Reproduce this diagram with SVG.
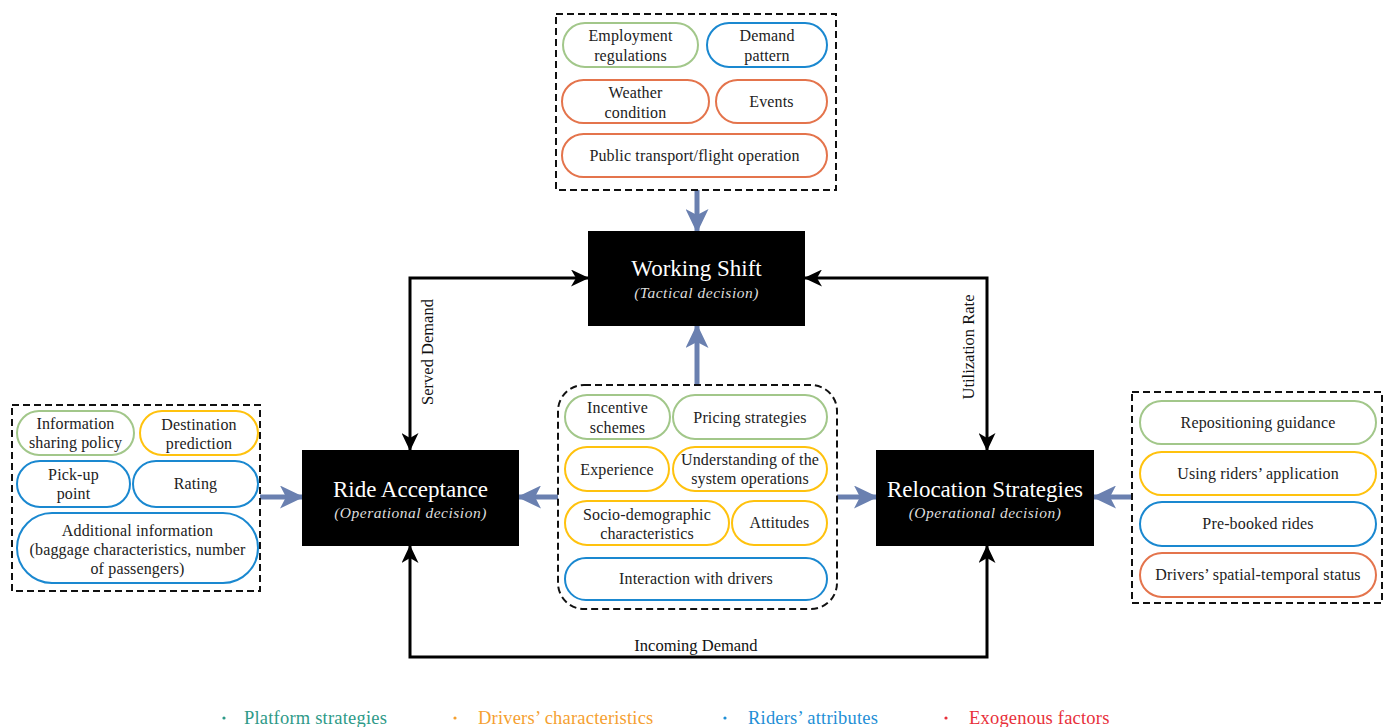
<svg xmlns="http://www.w3.org/2000/svg" width="1392" height="727" viewBox="0 0 1392 727">
<defs>
<style>
.t{font-family:"Liberation Serif","Times New Roman",serif;font-size:16px;letter-spacing:0.15px;fill:#222;text-anchor:middle}
.g{fill:#fff;stroke:#a2c78a;stroke-width:2}
.b{fill:#fff;stroke:#1a88d0;stroke-width:2}
.o{fill:#fff;stroke:#e4744c;stroke-width:2}
.y{fill:#fff;stroke:#ffc20e;stroke-width:2}
.dash{fill:none;stroke:#111;stroke-width:2;stroke-dasharray:7 4}
.dec{fill:#000}
.ttl{font-family:"Liberation Serif","Times New Roman",serif;font-size:23px;fill:#fff;text-anchor:middle}
.sub{font-family:"Liberation Serif","Times New Roman",serif;font-size:15.5px;letter-spacing:0.5px;font-style:italic;fill:#ddd;text-anchor:middle}
.bl{stroke:#6a80b0;stroke-width:5;fill:none;marker-end:url(#barr)}
.bk{stroke:#000;stroke-width:3;fill:none;marker-start:url(#karr);marker-end:url(#karr)}
.lab{font-family:"Liberation Serif","Times New Roman",serif;font-size:16.5px;fill:#111;text-anchor:middle}
.leg{font-family:"Liberation Serif","Times New Roman",serif;font-size:18.5px;letter-spacing:0.2px}
</style>
<marker id="barr" markerUnits="userSpaceOnUse" markerWidth="24" markerHeight="23" refX="22" refY="11.5" orient="auto">
<path d="M0,0 L24,11.5 L0,23 L6,11.5 z" fill="#6a80b0"/>
</marker>
<marker id="karr" markerUnits="userSpaceOnUse" markerWidth="18" markerHeight="17" refX="17" refY="8.5" orient="auto-start-reverse">
<path d="M0,0 L18,8.5 L0,17 L5,8.5 z" fill="#000"/>
</marker>
</defs>
<rect width="1392" height="727" fill="#fff"/>

<g id="connectors">
<line class="bl" x1="697" y1="190" x2="697" y2="231"/>
<line class="bl" x1="697" y1="385" x2="697" y2="326"/>
<line class="bl" x1="558" y1="497" x2="519" y2="497"/>
<line class="bl" x1="837" y1="497" x2="876" y2="497"/>
<line class="bl" x1="260" y1="497" x2="302" y2="497"/>
<line class="bl" x1="1132" y1="497" x2="1094" y2="497"/>
<path class="bk" d="M588,278 L410,278 L410,450"/>
<path class="bk" d="M805,278 L987,278 L987,450"/>
<path class="bk" d="M410,546 L410,657 L987,657 L987,546"/>
<text class="lab" transform="translate(433,352) rotate(-90)">Served Demand</text>
<text class="lab" transform="translate(974,347) rotate(-90)">Utilization Rate</text>
<text class="lab" x="696" y="651">Incoming Demand</text>
</g>

<g id="exogenous-box">
<rect class="dash" x="556" y="14" width="280" height="176"/>
<rect class="g" x="563" y="23" width="135" height="44" rx="22"/>
<text class="t" x="630.5" y="41">Employment</text><text class="t" x="630.5" y="61">regulations</text>
<rect class="b" x="707" y="23" width="120" height="44" rx="22"/>
<text class="t" x="767" y="41">Demand</text><text class="t" x="767" y="61">pattern</text>
<rect class="o" x="562" y="80" width="147" height="43" rx="21.5"/>
<text class="t" x="635.5" y="98">Weather</text><text class="t" x="635.5" y="118">condition</text>
<rect class="o" x="716" y="80" width="111" height="43" rx="21.5"/>
<text class="t" x="771.5" y="107">Events</text>
<rect class="o" x="562" y="134" width="265" height="43" rx="21.5"/>
<text class="t" x="694.5" y="161">Public transport/flight operation</text>
</g>

<g id="working-shift">
<rect class="dec" x="588" y="231" width="217" height="95"/>
<text class="ttl" x="696.5" y="276">Working Shift</text>
<text class="sub" x="696.5" y="298">(Tactical decision)</text>
</g>

<g id="ride-acceptance">
<rect class="dec" x="302" y="450" width="217" height="96"/>
<text class="ttl" x="410.5" y="497">Ride Acceptance</text>
<text class="sub" x="410.5" y="518">(Operational decision)</text>
</g>

<g id="relocation-strategies">
<rect class="dec" x="876" y="450" width="218" height="96"/>
<text class="ttl" x="985" y="497">Relocation Strategies</text>
<text class="sub" x="985" y="518">(Operational decision)</text>
</g>

<g id="rider-box">
<rect class="dash" x="12" y="405" width="248" height="186"/>
<rect class="g" x="17" y="411" width="117" height="44" rx="22"/>
<text class="t" x="75.5" y="429">Information</text><text class="t" x="75.5" y="448">sharing policy</text>
<rect class="y" x="140" y="411" width="118" height="44" rx="22"/>
<text class="t" x="199" y="430">Destination</text><text class="t" x="199" y="449">prediction</text>
<rect class="b" x="17" y="461" width="113" height="46" rx="23"/>
<text class="t" x="73.5" y="480">Pick-up</text><text class="t" x="73.5" y="499">point</text>
<rect class="b" x="133" y="461" width="125" height="46" rx="23"/>
<text class="t" x="195.5" y="489">Rating</text>
<rect class="b" x="17" y="513" width="241" height="70" rx="35"/>
<text class="t" x="137.5" y="536">Additional information</text>
<text class="t" x="137.5" y="555">(baggage characteristics, number</text>
<text class="t" x="137.5" y="574">of passengers)</text>
</g>

<g id="driver-box">
<rect class="dash" x="558" y="385" width="279" height="224" rx="26"/>
<rect class="g" x="565" y="395" width="105" height="44" rx="22"/>
<text class="t" x="617.5" y="413">Incentive</text><text class="t" x="617.5" y="433">schemes</text>
<rect class="g" x="673" y="395" width="154" height="44" rx="22"/>
<text class="t" x="750" y="423">Pricing strategies</text>
<rect class="y" x="565" y="447" width="104" height="44" rx="22"/>
<text class="t" x="617" y="475">Experience</text>
<rect class="y" x="673" y="447" width="154" height="44" rx="22"/>
<text class="t" x="750" y="465">Understanding of the</text><text class="t" x="750" y="484">system operations</text>
<rect class="y" x="565" y="501" width="164" height="44" rx="22"/>
<text class="t" x="647" y="520">Socio-demographic</text><text class="t" x="647" y="539">characteristics</text>
<rect class="y" x="732" y="501" width="95" height="44" rx="22"/>
<text class="t" x="779.5" y="528">Attitudes</text>
<rect class="b" x="565" y="558" width="262" height="42" rx="21"/>
<text class="t" x="696" y="584">Interaction with drivers</text>
</g>

<g id="relocation-box">
<rect class="dash" x="1132" y="392" width="250" height="211"/>
<rect class="g" x="1140" y="401" width="236" height="43" rx="21.5"/>
<text class="t" x="1258" y="428">Repositioning guidance</text>
<rect class="y" x="1140" y="452" width="236" height="43" rx="21.5"/>
<text class="t" x="1258" y="479">Using riders’ application</text>
<rect class="b" x="1140" y="502" width="236" height="44" rx="22"/>
<text class="t" x="1258" y="529">Pre-booked rides</text>
<rect class="o" x="1140" y="553" width="236" height="44" rx="22"/>
<text class="t" x="1258" y="580">Drivers’ spatial-temporal status</text>
</g>

<g id="legend">
<circle cx="224" cy="718" r="1.6" fill="#2e9a88"/>
<text class="leg" x="244" y="724" fill="#2e9a88">Platform strategies</text>
<circle cx="455" cy="718" r="1.6" fill="#f5a030"/>
<text class="leg" x="478" y="724" fill="#f5a030">Drivers’ characteristics</text>
<circle cx="725" cy="718" r="1.6" fill="#1f8fd6"/>
<text class="leg" x="748" y="724" fill="#1f8fd6">Riders’ attributes</text>
<circle cx="946" cy="718" r="1.6" fill="#e8303a"/>
<text class="leg" x="969" y="724" fill="#e8303a">Exogenous factors</text>
</g>
</svg>
